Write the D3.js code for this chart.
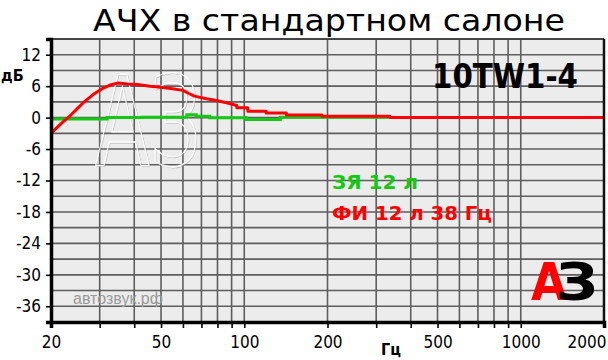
<!DOCTYPE html>
<html>
<head>
<meta charset="utf-8">
<script src="https://cdn.jsdelivr.net/npm/d3@7"></script>
<style>
  body { margin: 0; background: #fff; }
  svg { display: block; }
</style>
</head>
<body>
<div id="chart"></div>
<script>
		// Data
		var gridFreqs = [20, 30, 40, 50, 60, 70, 80, 90, 100, 200, 300, 400, 500, 600, 700, 800, 900, 1000, 2000]
		var labelFreqs = [20, 50, 100, 200, 500, 1000, 2000]
		var dbTicks = [-36, -30, -24, -18, -12, -6, 0, 6, 12]

		// ФИ 12 л 38 Гц (red)
		var redFreq = [20, 21, 22, 23.4, 25, 26.1, 28.4, 30.8, 33, 35, 37.7, 41, 45.6, 50, 55, 60, 63, 66, 73, 80, 87, 94, 94, 103, 103, 120, 120, 142, 142, 191, 191, 337, 337, 2000]
		var redDb = [-3.0, -1.9, -0.9, 0.3, 1.8, 2.8, 4.4, 5.6, 6.3, 6.6, 6.4, 6.3, 6.0, 5.8, 5.5, 5.2, 4.6, 4.1, 3.6, 3.2, 2.8, 2.3, 1.9, 1.9, 1.2, 1.2, 0.9, 0.9, 0.5, 0.5, 0.25, 0.25, 0.0, 0.0]

		// ЗЯ 12 л (green), stepped
		var greenFreq = [20, 31.9, 42.7, 62, 67, 75, 102, 135, 333]
		var greenDb = [-0.25, 0, 0.05, 0.55, 0.25, -0.05, -0.35, 0.05, 0.05]

		var width = 608, height = 360
		var margin = { left: 51, right: 4, top: 39, bottom: 38 }

		var svg = d3.select("#chart").append("svg")
			.attr("width", width)
			.attr("height", height)

		var x = d3.scaleLog().domain([20, 2000]).range([margin.left, width - margin.right])
		var y = d3.scaleLinear().domain([-39, 15]).range([height - margin.bottom, margin.top])

		// plot background
		svg.append("rect")
			.attr("x", x(20))
			.attr("y", y(15))
			.attr("width", x(2000) - x(20))
			.attr("height", y(-39) - y(15))
			.attr("fill", "#ececec")

		// grid
		svg.append("g").selectAll("line")
			.data(d3.range(-36, 15, 3))
			.enter().append("line")
			.attr("x1", x(20)).attr("x2", x(2000))
			.attr("y1", function(d) { return y(d) })
			.attr("y2", function(d) { return y(d) })
			.attr("stroke", "#5e5e5e")
			.attr("stroke-width", 1.6)

		svg.append("g").selectAll("line")
			.data(gridFreqs)
			.enter().append("line")
			.attr("x1", function(d) { return x(d) })
			.attr("x2", function(d) { return x(d) })
			.attr("y1", y(15)).attr("y2", y(-39))
			.attr("stroke", "#5e5e5e")
			.attr("stroke-width", 1.6)

		// watermark logo
		var wm = svg.append("g").attr("font-family", "DejaVu Sans, sans-serif").attr("font-size", 124)
		wm.append("text")
			.attr("x", 96).attr("y", 166)
			.attr("textLength", 106).attr("lengthAdjust", "spacingAndGlyphs")
			.attr("fill", "none").attr("stroke", "#8a8a8a").attr("stroke-width", 0.8).attr("opacity", 0.5)
			.text("АЗ")
		wm.append("text")
			.attr("x", 95).attr("y", 165)
			.attr("textLength", 106).attr("lengthAdjust", "spacingAndGlyphs")
			.attr("fill", "none").attr("stroke", "#ffffff").attr("stroke-width", 1.4)
			.text("АЗ")

		svg.append("text")
			.attr("x", 73).attr("y", 304)
			.attr("font-family", "Liberation Sans, Arial, sans-serif")
			.attr("font-size", 16)
			.attr("fill", "#9a9a9a")
			.text("автозвук.рф")

		// curves
		var redLine = d3.line()
			.x(function(d, i) { return x(redFreq[i]) })
			.y(function(d) { return y(d) })

		var greenLine = d3.line()
			.curve(d3.curveStepAfter)
			.x(function(d, i) { return x(greenFreq[i]) })
			.y(function(d) { return y(d) })

		svg.append("path")
			.attr("d", greenLine(greenDb))
			.attr("fill", "none")
			.attr("stroke", "#14c814")
			.attr("stroke-width", 3)

		svg.append("path")
			.attr("d", redLine(redDb))
			.attr("fill", "none")
			.attr("stroke", "#ff0000")
			.attr("stroke-width", 3)
			.attr("stroke-linejoin", "round")

		// frame
		svg.append("line")
			.attr("x1", x(20)).attr("x2", x(2000)).attr("y1", y(15)).attr("y2", y(15))
			.attr("stroke", "#444").attr("stroke-width", 2)
		svg.append("line")
			.attr("x1", x(2000)).attr("x2", x(2000)).attr("y1", y(15)).attr("y2", y(-39))
			.attr("stroke", "#111").attr("stroke-width", 2.5)

		// axes
		var xAxis = d3.axisBottom(x)
			.tickValues(gridFreqs)
			.tickSize(6)
			.tickPadding(8)
			.tickFormat(function(d) { return labelFreqs.indexOf(d) >= 0 ? d : "" })

		var yAxis = d3.axisLeft(y)
			.tickValues(dbTicks)
			.tickSize(5)
			.tickPadding(5)
			.tickFormat(function(d) { return d })

		var gx = svg.append("g")
			.attr("transform", "translate(0," + y(-39) + ")")
			.call(xAxis)
		var gy = svg.append("g")
			.attr("transform", "translate(" + x(20) + ",0)")
			.call(yAxis)

		gx.select(".domain").attr("stroke", "#000").attr("stroke-width", 3.5)
		gy.select(".domain").attr("stroke", "#000").attr("stroke-width", 3.5)
		gx.selectAll(".tick line").attr("stroke", "#000").attr("stroke-width", 1.6)
		gy.selectAll(".tick line").attr("stroke", "#000").attr("stroke-width", 1.6)
		svg.selectAll(".tick text")
			.attr("font-family", "DejaVu Sans Condensed, Roboto, sans-serif")
			.attr("font-size", 17)
			.attr("fill", "#000")
		gx.selectAll(".tick text").filter(function(d) { return d === 2000 })
			.attr("text-anchor", "end").attr("dx", 2)

		// labels
		svg.append("text")
			.attr("x", 391).attr("y", 355)
			.attr("text-anchor", "middle")
			.attr("font-family", "DejaVu Sans Condensed, Roboto, sans-serif")
			.attr("font-weight", "bold")
			.attr("font-size", 16)
			.text("Гц")

		svg.append("text")
			.attr("x", 1).attr("y", 81)
			.attr("font-family", "DejaVu Sans Condensed, Roboto, sans-serif")
			.attr("font-weight", "bold")
			.attr("font-size", 16)
			.text("дБ")

		svg.append("text")
			.attr("x", 93).attr("y", 31)
			.attr("textLength", 472).attr("lengthAdjust", "spacingAndGlyphs")
			.attr("font-family", "DejaVu Sans Condensed, Roboto, sans-serif")
			.attr("font-size", 30)
			.text("АЧХ  в стандартном салоне")

		svg.append("text")
			.attr("x", 432).attr("y", 88)
			.attr("textLength", 146).attr("lengthAdjust", "spacingAndGlyphs")
			.attr("font-family", "DejaVu Sans Condensed, Roboto, sans-serif")
			.attr("font-weight", "bold")
			.attr("font-size", 33)
			.text("10TW1-4")

		// legend
		svg.append("text")
			.attr("x", 332).attr("y", 189)
			.attr("textLength", 86).attr("lengthAdjust", "spacingAndGlyphs")
			.attr("font-family", "DejaVu Sans Condensed, Roboto, sans-serif")
			.attr("font-weight", "bold")
			.attr("font-size", 20)
			.attr("fill", "#14c814")
			.text("ЗЯ 12 л")

		svg.append("text")
			.attr("x", 332).attr("y", 220)
			.attr("textLength", 160).attr("lengthAdjust", "spacingAndGlyphs")
			.attr("font-family", "DejaVu Sans Condensed, Roboto, sans-serif")
			.attr("font-weight", "bold")
			.attr("font-size", 20)
			.attr("fill", "#ff0000")
			.text("ФИ 12 л 38 Гц")

		// corner logo (one text, two coloured letters)
		var logo = svg.append("text")
			.attr("x", 531).attr("y", 300)
			.attr("font-family", "DejaVu Sans, sans-serif")
			.attr("font-weight", "bold")
			.attr("font-size", 52)
		logo.append("tspan")
			.attr("fill", "#ff0000")
			.attr("textLength", 36).attr("lengthAdjust", "spacingAndGlyphs")
			.text("А")
		logo.append("tspan")
			.attr("x", 556)
			.attr("fill", "#000")
			.attr("textLength", 42).attr("lengthAdjust", "spacingAndGlyphs")
			.text("З")
</script>
</body>
</html>
